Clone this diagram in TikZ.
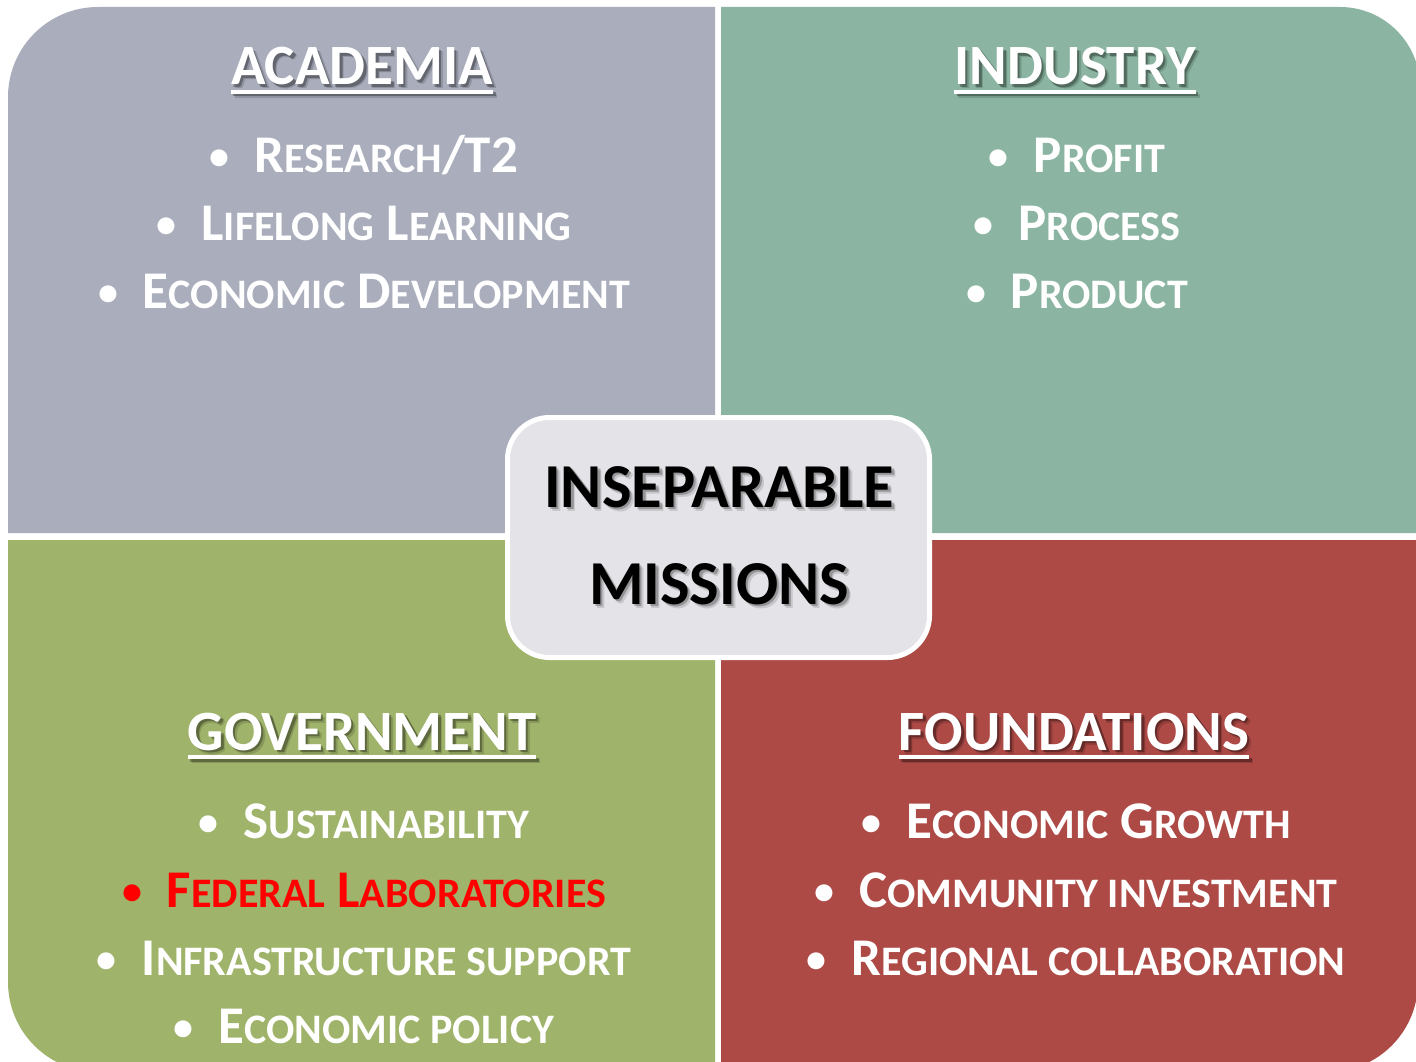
\documentclass[tikz,border=0pt]{standalone}
\usepackage{fontspec}
\setmainfont{Carlito}
\usetikzlibrary{calc}
\definecolor{acad}{HTML}{A9ADBC}
\definecolor{indu}{HTML}{8BB5A2}
\definecolor{gov}{HTML}{9FB36A}
\definecolor{found}{HTML}{AD4A46}
\definecolor{core}{HTML}{E3E3E8}
% reduced capitals for the bullet texts
\newcommand\lo[1]{{\fontsize{42}{42}\selectfont #1}}
\newcommand\bul{\raisebox{3pt}{\fontsize{40}{40}\selectfont •}\hspace{25pt}}
\tikzset{
	heading/.style={anchor=base,inner sep=0pt,text=white,font=\bfseries\fontsize{57}{60}\selectfont},
	item/.style={anchor=base,inner sep=0pt,text=white,font=\bfseries\fontsize{53}{56}\selectfont},
	coretext/.style={anchor=base,inner sep=0pt,text=black,font=\bfseries\fontsize{62.5}{66}\selectfont},
	corebox/.style={draw=white,line width=5pt,fill=core,rounded corners=42pt,minimum width=422pt,minimum height=240pt}
}
% heading with underline and soft shadow: name, position, text
\newcommand\heading[3]{%
	\foreach \d/\o in {4/0.15,2.5/0.3}{%
		\node[heading,text=black,opacity=\o] (s) at ($#2+(\d,\d)$) {#3};
		\draw[black,opacity=\o,line width=4pt] ([yshift=-7pt]s.base west) -- ([yshift=-7pt]s.base east);
	}
	\node[heading] (#1) at #2 {#3};
	\draw[white,line width=4pt] ([yshift=-7pt]#1.base west) -- ([yshift=-7pt]#1.base east);
}
\newcommand\coreline[3]{%
	\foreach \d/\o in {4/0.12,2.5/0.25}{%
		\node[coretext,opacity=\o] at ($#2+(\d,\d)$) {#3};
	}
	\node[coretext] (#1) at #2 {#3};
}
\begin{document}
\begin{tikzpicture}[x=1pt,y=-1pt,line join=round]
	\useasboundingbox (0,0) rectangle (1416,1062);
	\fill[white] (0,0) rectangle (1416,1062);
	\clip (0,0) rectangle (1416,1062);
	% quadrants
	\fill[acad] (715,533) -- (8,533) -- (8,97) arc[start angle=180,end angle=270,radius=90] -- (715,7) -- cycle;
	\fill[indu] (721,533) -- (721,7) -- (1340,7) arc[start angle=270,end angle=360,radius=80] -- (1420,533) -- cycle;
	\fill[gov] (715,540) -- (8,540) -- (8,982) arc[start angle=180,end angle=90,radius=90] -- (715,1072) -- cycle;
	\fill[found] (721,540) -- (1418,540) -- (1418,982) arc[start angle=0,end angle=90,radius=90] -- (721,1072) -- cycle;
	% headings
	\heading{acadT}{(362,85)}{ACADEMIA}
	\heading{induT}{(1075,85)}{INDUSTRY}
	\heading{govT}{(362,750)}{GOVERNMENT}
	\heading{foundT}{(1074,750)}{FOUNDATIONS}
	% academia
	\node[item] (a1) at (364,172) {\bul R\lo{ESEARCH}/T2};
	\node[item] (a2) at (364,240) {\bul L\lo{IFELONG} L\lo{EARNING}};
	\node[item] (a3) at (364,308) {\bul E\lo{CONOMIC} D\lo{EVELOPMENT}};
	% industry
	\node[item] (i1) at (1077,172) {\bul P\lo{ROFIT}};
	\node[item] (i2) at (1077,240) {\bul P\lo{ROCESS}};
	\node[item] (i3) at (1077,308) {\bul P\lo{RODUCT}};
	% government
	\node[item] (g1) at (364,838) {\bul S\lo{USTAINABILITY}};
	\node[item,text=red] (g2) at (364,907) {\bul F\lo{EDERAL} L\lo{ABORATORIES}};
	\node[item] (g3) at (364,975) {\bul I\lo{NFRASTRUCTURE SUPPORT}};
	\node[item] (g4) at (364,1043) {\bul E\lo{CONOMIC POLICY}};
	% foundations
	\node[item] (f1) at (1076,838) {\bul E\lo{CONOMIC} G\lo{ROWTH}};
	\node[item] (f2) at (1076,907) {\bul C\lo{OMMUNITY INVESTMENT}};
	\node[item] (f3) at (1076,975) {\bul R\lo{EGIONAL COLLABORATION}};
	% centre
	\node[corebox] (core) at (718.5,537.5) {};
	\coreline{c1}{(719,507)}{INSEPARABLE}
	\coreline{c2}{(719,604)}{MISSIONS}
\end{tikzpicture}
\end{document}
